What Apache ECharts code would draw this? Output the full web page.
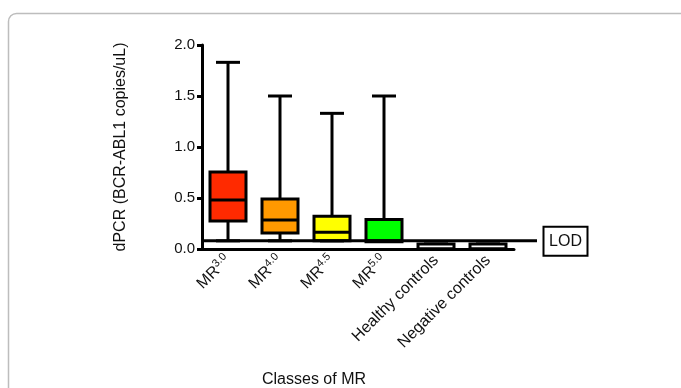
<!DOCTYPE html>
<html>
<head>
<meta charset="utf-8">
<script src="https://cdn.jsdelivr.net/npm/echarts@6/dist/echarts.min.js"></script>
<style>html,body{margin:0;padding:0;background:#fff}#c{width:681px;height:388px}</style>
</head>
<body>
<div id="c"></div>
<script>
const categories = ['MR3.0', 'MR4.0', 'MR4.5', 'MR5.0', 'Healthy controls', 'Negative controls'];
const labelBase = ['MR', 'MR', 'MR', 'MR', 'Healthy controls', 'Negative controls'];
const labelSup = ['3.0', '4.0', '4.5', '5.0', '', ''];
const mins    = [0.08, 0.08, 0.08, 0.08, 0.00, 0.00];
const q1s     = [0.275, 0.157, 0.08, 0.07, 0.00, 0.00];
const medians = [0.48, 0.285, 0.165, 0.08, 0.00, 0.00];
const q3s     = [0.755, 0.49, 0.32, 0.29, 0.05, 0.05];
const maxs    = [1.83, 1.50, 1.33, 1.50, 0.05, 0.05];
const boxColors = ['#ff2a00', '#ff9900', '#ffff00', '#00ff00', '#ffffff', '#ffffff'];
const lod = 0.08;
const yTicks = [0, 0.5, 1.0, 1.5, 2.0];

const FONT = '"Liberation Sans", Arial, sans-serif';
const boxData = categories.map((c, i) => [i, mins[i], q1s[i], medians[i], q3s[i], maxs[i]]);

const chart = echarts.init(document.getElementById('c'));
chart.setOption({
  animation: false,
  backgroundColor: '#fff',
  grid: { left: 202, right: 167, top: 45, bottom: 139 },
  graphic: [
    { type: 'rect', z: -10, shape: { x: 8.5, y: 13.5, width: 720, height: 420, r: 8 },
      style: { fill: 'none', stroke: '#bdbdbd', lineWidth: 1.5 } },
    { type: 'text', x: 314, y: 380,
      style: { text: 'Classes of MR', fontSize: 16, fontFamily: FONT, fill: '#111', align: 'center', verticalAlign: 'middle' } }
  ],
  xAxis: {
    type: 'category',
    data: categories,
    axisLine: { lineStyle: { color: '#000', width: 3 } },
    axisTick: { alignWithLabel: true, length: 6, lineStyle: { color: '#000', width: 3 } },
    axisLabel: {
      rotate: 45, margin: 9, interval: 0,
      formatter: function (v, i) {
        return labelSup[i] ? '{b|' + labelBase[i] + '}{s|' + labelSup[i] + '}' : '{b|' + labelBase[i] + '}';
      },
      rich: {
        b: { fontSize: 16, fontFamily: FONT, color: '#111', lineHeight: 20 },
        s: { fontSize: 11, fontFamily: FONT, color: '#111', lineHeight: 11, verticalAlign: 'top' }
      }
    }
  },
  yAxis: {
    type: 'value', min: 0, max: 2, interval: 0.5,
    name: 'dPCR (BCR-ABL1 copies/uL)', nameLocation: 'middle', nameGap: 73,
    nameTextStyle: { fontSize: 16, fontFamily: FONT, color: '#111' },
    axisLine: { show: true, lineStyle: { color: '#000', width: 3 } },
    axisTick: { show: true, length: 5, lineStyle: { color: '#000', width: 3 } },
    splitLine: { show: false },
    axisLabel: { fontSize: 15, fontFamily: FONT, color: '#111', margin: 7,
      formatter: v => v.toFixed(1) }
  },
  series: [
    {
      type: 'custom', clip: false, z: 5,
      data: boxData,
      renderItem: function (params, api) {
        const i = api.value(0);
        const x = api.coord([i, 0])[0];
        const yMin = api.coord([i, api.value(1)])[1];
        const yQ1 = api.coord([i, api.value(2)])[1];
        const yMed = api.coord([i, api.value(3)])[1];
        const yQ3 = api.coord([i, api.value(4)])[1];
        const yMax = api.coord([i, api.value(5)])[1];
        const hw = 18, cw = 12;
        const ls = { stroke: '#000', lineWidth: 3 };
        return {
          type: 'group',
          children: [
            { type: 'line', shape: { x1: x, y1: yMax, x2: x, y2: yQ3 }, style: ls },
            { type: 'line', shape: { x1: x, y1: yQ1, x2: x, y2: yMin }, style: ls },
            { type: 'line', shape: { x1: x - cw, y1: yMax, x2: x + cw, y2: yMax }, style: ls },
            { type: 'line', shape: { x1: x - cw, y1: yMin, x2: x + cw, y2: yMin }, style: ls },
            { type: 'rect', shape: { x: x - hw, y: yQ3, width: 2 * hw, height: yQ1 - yQ3 },
              style: { fill: boxColors[i], stroke: '#000', lineWidth: 3 } },
            { type: 'line', shape: { x1: x - hw, y1: yMed, x2: x + hw, y2: yMed }, style: ls }
          ]
        };
      }
    },
    {
      type: 'custom', clip: false, z: 6,
      data: [[0, lod]],
      renderItem: function (params, api) {
        const band = api.size([1, 0])[0];
        const y = api.coord([0, api.value(1)])[1];
        const x0 = api.coord([0, 0])[0] - band / 2;
        const x1 = api.coord([categories.length - 1, 0])[0] + band / 2 + 23;
        return {
          type: 'group',
          children: [
            { type: 'line', shape: { x1: x0, y1: y, x2: x1, y2: y }, style: { stroke: '#000', lineWidth: 3 } },
            { type: 'rect', shape: { x: x1 + 6.5, y: y - 14, width: 44, height: 29 },
              style: { fill: '#fff', stroke: '#000', lineWidth: 2 } },
            { type: 'text', x: x1 + 28.5, y: y + 1,
              style: { text: 'LOD', fontSize: 16, fontFamily: FONT, fill: '#111', align: 'center', verticalAlign: 'middle' } }
          ]
        };
      }
    }
  ]
});
</script>
</body>
</html>
